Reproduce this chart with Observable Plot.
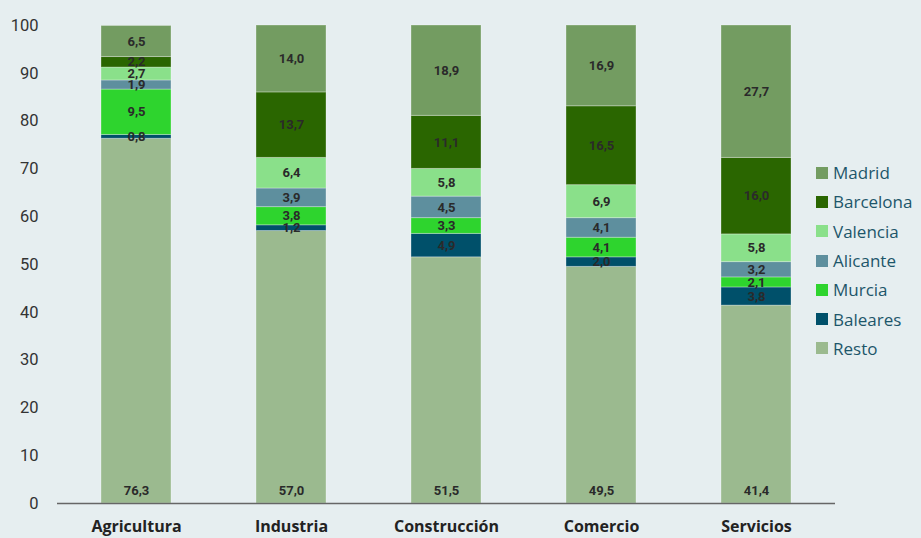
<!DOCTYPE html>
<html>
<head>
<meta charset="utf-8">
<script src="https://cdn.jsdelivr.net/npm/d3@7"></script>
<script src="https://cdn.jsdelivr.net/npm/@observablehq/plot@0.6"></script>
<style>
  html, body { margin: 0; padding: 0; background: #e6eef0; }
  #wrap { position: relative; width: 921px; height: 538px; overflow: hidden; font-family: "Open Sans", Roboto, sans-serif; }
  #legend { position: absolute; left: 816px; top: 158px; }
  .item { display: flex; align-items: center; height: 29.3px; font-size: 17px; color: #1d566a; }
  .sw { width: 12px; height: 12px; margin-right: 5px; }
</style>
</head>
<body>
<div id="wrap"><div id="legend"></div></div>
<script>
const sectors = ["Agricultura", "Industria", "Construcción", "Comercio", "Servicios"];
const regions = ["Resto", "Baleares", "Murcia", "Alicante", "Valencia", "Barcelona", "Madrid"];
const colors = ["#9bba8f", "#00506a", "#2ed42e", "#5e8f9e", "#8ae08a", "#2a6600", "#739c61"];
const resto     = [76.3, 57.0, 51.5, 49.5, 41.4];
const baleares  = [0.8, 1.2, 4.9, 2.0, 3.8];
const murcia    = [9.5, 3.8, 3.3, 4.1, 2.1];
const alicante  = [1.9, 3.9, 4.5, 4.1, 3.2];
const valencia  = [2.7, 6.4, 5.8, 6.9, 5.8];
const barcelona = [2.2, 13.7, 11.1, 16.5, 16.0];
const madrid    = [6.5, 14.0, 18.9, 16.9, 27.7];
const yTicks = [0, 10, 20, 30, 40, 50, 60, 70, 80, 90, 100];

const series = [resto, baleares, murcia, alicante, valencia, barcelona, madrid];
const data = [];
sectors.forEach((s, i) => regions.forEach((r, j) => data.push({sector: s, region: r, value: series[j][i]})));
const fmt = v => v.toFixed(1).replace(".", ",");
const restoData = data.filter(d => d.region === "Resto");

const chart = Plot.plot({
  width: 921,
  height: 538,
  marginLeft: 57,
  marginRight: 86,
  marginTop: 25,
  marginBottom: 35,
  style: {background: "transparent", fontFamily: "Roboto, sans-serif"},
  x: {domain: sectors, paddingInner: 0.55, paddingOuter: 0.275, label: null},
  y: {domain: [0, 100], label: null},
  color: {domain: regions, range: colors},
  marks: [
    Plot.barY(data, Plot.stackY({x: "sector", y: "value", fill: "region", order: regions, stroke: "white", strokeOpacity: 0.3, strokeWidth: 1})),
    Plot.text(data, Plot.stackY({x: "sector", y: "value", z: "region", order: regions, text: d => d.region === "Resto" ? "" : fmt(d.value), fill: "#2a2a2a", fontWeight: "bold", fontSize: 13})),
    Plot.text(restoData, {x: "sector", y: 2.7, text: d => fmt(d.value), fill: "#2a2a2a", fontWeight: "bold", fontSize: 13}),
    Plot.ruleY([0], {stroke: "#666", strokeWidth: 1.5}),
    Plot.axisY({ticks: yTicks, tickSize: 0, tickPadding: 19, fontSize: 16.5, fill: "#333", label: null}),
    Plot.axisX({tickSize: 0, tickPadding: 17, fontSize: 16, fontWeight: "bold", fontFamily: "Open Sans, sans-serif", fill: "#222", label: null})
  ]
});
document.getElementById("wrap").prepend(chart);

const legend = document.getElementById("legend");
[...regions].reverse().forEach(r => {
  const idx = regions.indexOf(r);
  const it = document.createElement("div");
  it.className = "item";
  it.innerHTML = `<div class="sw" style="background:${colors[idx]}"></div><span>${r}</span>`;
  legend.appendChild(it);
});
</script>
</body>
</html>
